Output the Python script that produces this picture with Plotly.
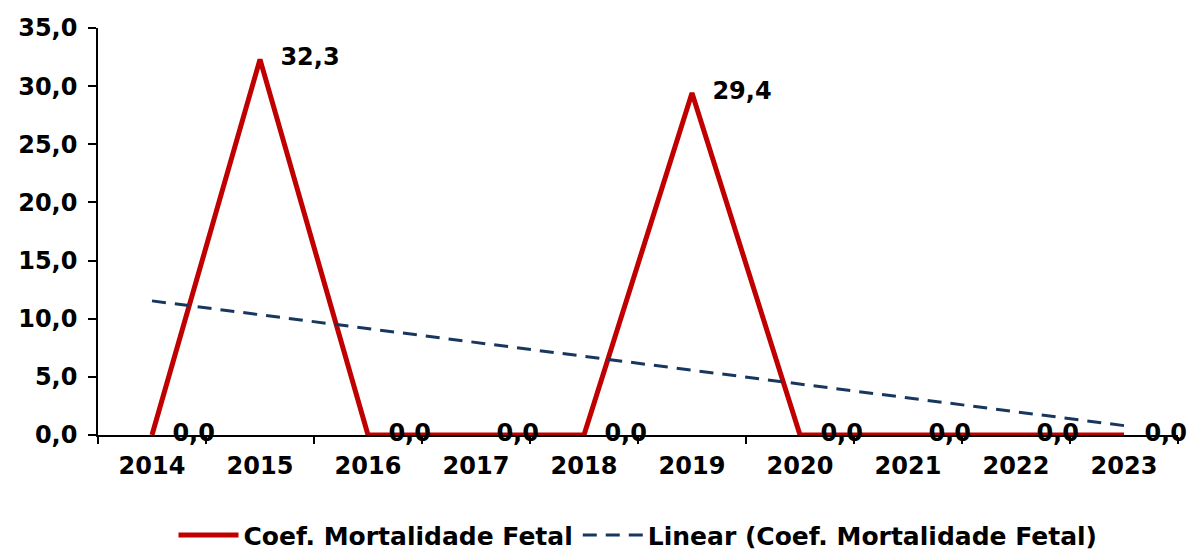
import numpy as np
import plotly.graph_objects as go

years = ["2014", "2015", "2016", "2017", "2018", "2019", "2020", "2021", "2022", "2023"]
coef = [0.0, 32.3, 0.0, 0.0, 0.0, 29.4, 0.0, 0.0, 0.0, 0.0]
series_name = "Coef. Mortalidade Fetal"
trend_name = "Linear (Coef. Mortalidade Fetal)"
y_ticks = [0, 5, 10, 15, 20, 25, 30, 35]

# Linear trend line (least squares), like Excel's trendline
idx = np.arange(len(coef))
slope, intercept = np.polyfit(idx, coef, 1)
trend = list(intercept + slope * idx)

FONT = "DejaVu Sans"
FS = 24

fig = go.Figure()
fig.add_trace(go.Scatter(
    x=years, y=coef, mode="lines", name=series_name,
    line=dict(color="#C00000", width=5),
))
fig.add_trace(go.Scatter(
    x=years, y=trend, mode="lines", name=trend_name,
    line=dict(color="#17375E", width=3, dash="14px,9px"),
))
# data labels (invisible markers give the label offset)
fig.add_trace(go.Scatter(
    x=years, y=coef, mode="markers+text", showlegend=False, hoverinfo="skip",
    marker=dict(size=31, opacity=0),
    texttemplate="%{y:.1f}", textposition="middle right",
    textfont=dict(family=FONT, size=FS, color="black", weight="bold"),
    cliponaxis=False,
))

fig.update_layout(
    width=1191, height=549,
    margin=dict(l=98, r=13, t=28, b=114, autoexpand=False),
    paper_bgcolor="white", plot_bgcolor="white",
    separators=",.",
    font=dict(family=FONT, size=FS, color="black", weight="bold"),
    showlegend=True,
    legend=dict(
        orientation="h", x=0.5, xanchor="center", y=-0.19, yanchor="top",
        font=dict(family=FONT, size=25, color="black", weight="bold"),
        tracegroupgap=0, itemwidth=60,
    ),
)
fig.update_xaxes(
    type="category", range=[-0.5, 9.5], automargin=False,
    showline=True, linecolor="black", linewidth=1.5,
    ticks="outside", tickson="boundaries", ticklen=7, tickcolor="black", tickwidth=1.5,
    showgrid=False, zeroline=False,
    tickfont=dict(family=FONT, size=FS, color="black", weight="bold"),
    ticklabelstandoff=8,
)
fig.update_yaxes(
    range=[0, 35], tickvals=y_ticks, tickformat=".1f", automargin=False,
    showline=True, linecolor="black", linewidth=1.5,
    ticks="outside", ticklen=8, tickcolor="black", tickwidth=1.5,
    showgrid=False, zeroline=False,
    tickfont=dict(family=FONT, size=FS, color="black", weight="bold"),
    ticklabelstandoff=6,
)

fig.write_html(
    "out.html",
    config={"displayModeBar": False},
    post_script="document.body.style.margin='0px';document.body.style.overflow='hidden';",
)
